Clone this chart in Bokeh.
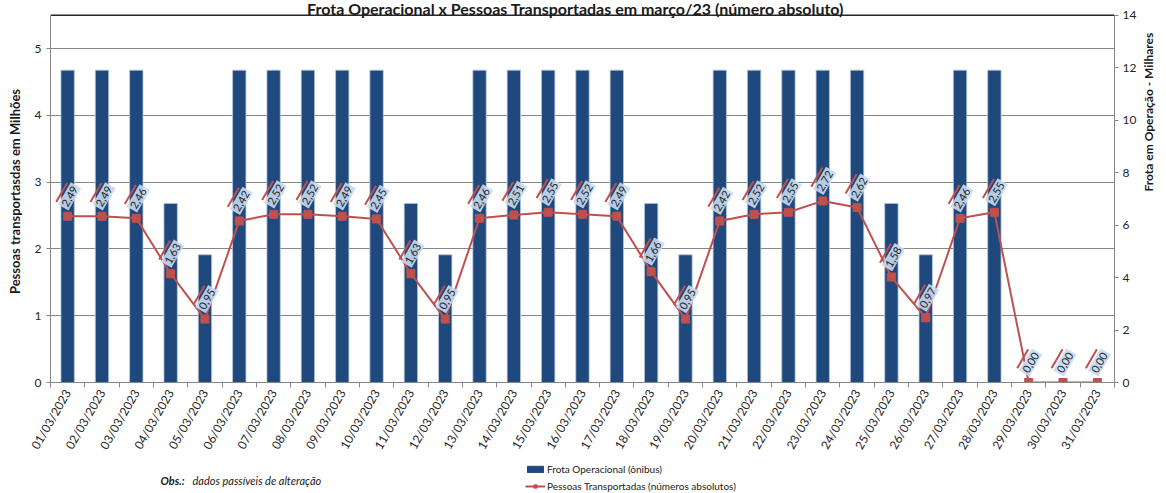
from math import pi
from bokeh.plotting import figure
from bokeh.layouts import column
from bokeh.models import (Range1d, LinearAxis, FixedTicker, ColumnDataSource,
                          Label, Legend, LegendItem, Span)
from bokeh.core.properties import value
from bokeh.embed import file_html
from bokeh.resources import INLINE

dates = ["01/03/2023", "02/03/2023", "03/03/2023", "04/03/2023", "05/03/2023",
         "06/03/2023", "07/03/2023", "08/03/2023", "09/03/2023", "10/03/2023",
         "11/03/2023", "12/03/2023", "13/03/2023", "14/03/2023", "15/03/2023",
         "16/03/2023", "17/03/2023", "18/03/2023", "19/03/2023", "20/03/2023",
         "21/03/2023", "22/03/2023", "23/03/2023", "24/03/2023", "25/03/2023",
         "26/03/2023", "27/03/2023", "28/03/2023", "29/03/2023", "30/03/2023",
         "31/03/2023"]

# Frota operacional (milhares de ônibus) - eixo direito
frota = [11.91, 11.91, 11.91, 6.83, 4.87, 11.91, 11.91, 11.91, 11.91, 11.91,
         6.83, 4.87, 11.91, 11.91, 11.91, 11.91, 11.91, 6.83, 4.87, 11.91,
         11.91, 11.91, 11.91, 11.91, 6.83, 4.87, 11.91, 11.91, 0.0, 0.0, 0.0]

# Pessoas transportadas (milhões) - eixo esquerdo
pessoas = [2.49, 2.49, 2.46, 1.63, 0.95, 2.42, 2.52, 2.52, 2.49, 2.45,
           1.63, 0.95, 2.46, 2.51, 2.55, 2.52, 2.49, 1.66, 0.95, 2.42,
           2.52, 2.55, 2.72, 2.62, 1.58, 0.97, 2.46, 2.55, 0.00, 0.00, 0.00]

left_ticks = [0, 1, 2, 3, 4, 5]
right_ticks = [0, 2, 4, 6, 8, 10, 12, 14]
left_max = 5.5
right_max = 14

FONT = "Lato"
BLUE = "#1f497d"
RED = "#c0504d"
GRID = "#868686"
TXT = "#1a1a1a"

n = len(dates)
xs = list(range(n))
labels = [f"{v:.2f}".replace(".", ",") for v in pessoas]

# geometry: plot frame 1068 px wide; value axis 371 px tall for 0..5.5,
# frame extended 15 px above the top so the title can sit inside it
FRAME_H = 386
px_x = 1068 / n
px_y = 371 / left_max
top_left = left_max * FRAME_H / 371
top_right = right_max * FRAME_H / 371

src = ColumnDataSource(dict(
    x=xs, frota=frota, pessoas=pessoas, lbl=labels,
    ex=[x - 6.0 / px_x for x in xs],
    ey=[v + 24.0 / px_y for v in pessoas],
))

p = figure(width=1166, height=458, x_range=Range1d(-0.5, n - 0.5),
           y_range=Range1d(0, top_left), output_backend="svg",
           toolbar_location=None, min_border_left=50, min_border_right=48,
           min_border_top=0, min_border_bottom=72)
p.extra_y_ranges = {"frota": Range1d(0, top_right)}
p.outline_line_color = None

bars = p.vbar(x="x", top="frota", width=0.39, source=src, y_range_name="frota",
              fill_color=BLUE, line_color="#b7c7dc", line_width=0.8)

line_r = p.line(x="x", y="pessoas", source=src, line_color=RED, line_width=2)
sc_r = p.scatter(x="x", y="pessoas", source=src, marker="square", size=8,
                 fill_color=RED, line_color=RED)

p.text(x="x", y="pessoas", text="lbl", source=src, angle=pi / 3,
       x_offset=2, y_offset=-20, text_align="center", text_baseline="middle",
       text_font=value(FONT), text_font_size="11px", text_color="#262626",
       background_fill_color="#c6d9f1", background_fill_alpha=0.9, padding=2)
p.rect(x="ex", y="ey", width=22, height=2, width_units="screen",
       height_units="screen", angle=pi / 3, source=src, fill_color=RED,
       line_color=None)

# x axis
xa = p.xaxis[0]
xa.ticker = FixedTicker(ticks=xs, minor_ticks=[i - 0.5 for i in range(n + 1)])
xa.major_label_overrides = {i: d for i, d in enumerate(dates)}
xa.major_label_orientation = pi / 3
xa.major_tick_out = 0
xa.major_tick_in = 0
xa.minor_tick_out = 5
xa.minor_tick_in = 0
xa.minor_tick_line_color = GRID
xa.axis_line_color = GRID
xa.major_label_text_font = FONT
xa.major_label_text_font_size = "12px"
xa.major_label_text_color = "#262626"
xa.major_label_standoff = 3

# left y axis
ya = p.yaxis[0]
ya.ticker = FixedTicker(ticks=left_ticks)
ya.bounds = (0, left_max)
ya.axis_label = "Pessoas transportasdas em Milhões"
ya.axis_label_text_font = FONT
ya.axis_label_text_font_size = "13px"
ya.axis_label_text_font_style = "bold"
ya.axis_label_text_color = TXT
ya.axis_label_standoff = 9
ya.major_label_text_font = FONT
ya.major_label_text_font_size = "12px"
ya.major_label_text_color = "#262626"
ya.major_tick_out = 4
ya.major_tick_in = 0
ya.minor_tick_out = 0
ya.minor_tick_in = 0
ya.major_tick_line_color = GRID
ya.axis_line_color = GRID

# right y axis
ra = LinearAxis(y_range_name="frota", ticker=FixedTicker(ticks=right_ticks),
                axis_label="Frota em Operação - Milhares")
ra.bounds = (0, right_max)
ra.axis_label_orientation = pi / 2
ra.axis_label_text_font = FONT
ra.axis_label_text_font_size = "12px"
ra.axis_label_text_font_style = "bold"
ra.axis_label_text_color = TXT
ra.axis_label_standoff = 9
ra.major_label_standoff = 4
ra.major_label_text_font = FONT
ra.major_label_text_font_size = "12px"
ra.major_label_text_color = "#262626"
ra.major_tick_out = 4
ra.major_tick_in = 0
ra.minor_tick_out = 0
ra.minor_tick_in = 0
ra.major_tick_line_color = GRID
ra.axis_line_color = GRID
p.add_layout(ra, "right")

p.xgrid.visible = False
p.ygrid.ticker = FixedTicker(ticks=left_ticks)
p.ygrid.grid_line_color = GRID
p.ygrid.grid_line_width = 1

p.add_layout(Span(location=left_max, dimension="width", line_color="#262626",
                  line_width=1.5))

# title, inside the top strip of the frame
p.add_layout(Label(x=525, y=FRAME_H - 12, x_units="screen", y_units="screen",
                   text="Frota Operacional x Pessoas Transportadas em março/23 (número absoluto)",
                   text_align="center", text_baseline="alphabetic",
                   text_font=FONT, text_font_size="16px", text_font_style="bold",
                   text_color=TXT))

# footer: note + legend (its frame is aligned with the chart frame, left = 50 px)
f = figure(width=1166, height=35, x_range=Range1d(-0.5, n - 0.5),
           y_range=Range1d(100, 101), x_axis_type=None, y_axis_type=None,
           output_backend="svg", toolbar_location=None, min_border=0)
f.outline_line_color = None
f.xgrid.visible = False
f.ygrid.visible = False

# same series, drawn out of the footer's view: only their legend swatches show
lg_bar = f.vbar(x="x", top="frota", width=0.39, source=src,
                fill_color=BLUE, line_color=BLUE)
lg_line = f.line(x="x", y="pessoas", source=src, line_color=RED, line_width=2)
lg_sc = f.scatter(x="x", y="pessoas", source=src, marker="square", size=7,
                  fill_color=RED, line_color=RED)

f.add_layout(Label(x=110, y=13, x_units="screen", y_units="screen",
                   text="Obs.:", text_baseline="middle", text_font=FONT,
                   text_font_size="11px", text_font_style="bold italic",
                   text_color=TXT))
f.add_layout(Label(x=142, y=13, x_units="screen", y_units="screen",
                   text="dados passíveis de alteração", text_baseline="middle",
                   text_font=FONT, text_font_size="11px", text_font_style="italic",
                   text_color=TXT))

legend = Legend(items=[
    LegendItem(label="Frota Operacional (ônibus)", renderers=[lg_bar]),
    LegendItem(label="Pessoas Transportadas (números absolutos)",
               renderers=[lg_line, lg_sc]),
], location=(475, 0), orientation="vertical", background_fill_alpha=0,
    border_line_color=None, label_text_font=FONT, label_text_font_size="10px",
    label_text_color=TXT, glyph_width=20, glyph_height=8, label_width=10,
    label_height=14, spacing=3, padding=2, margin=0, label_standoff=2)
f.add_layout(legend)

layout = column(p, f, spacing=0)
open("out.html", "w").write(file_html(layout, INLINE))
